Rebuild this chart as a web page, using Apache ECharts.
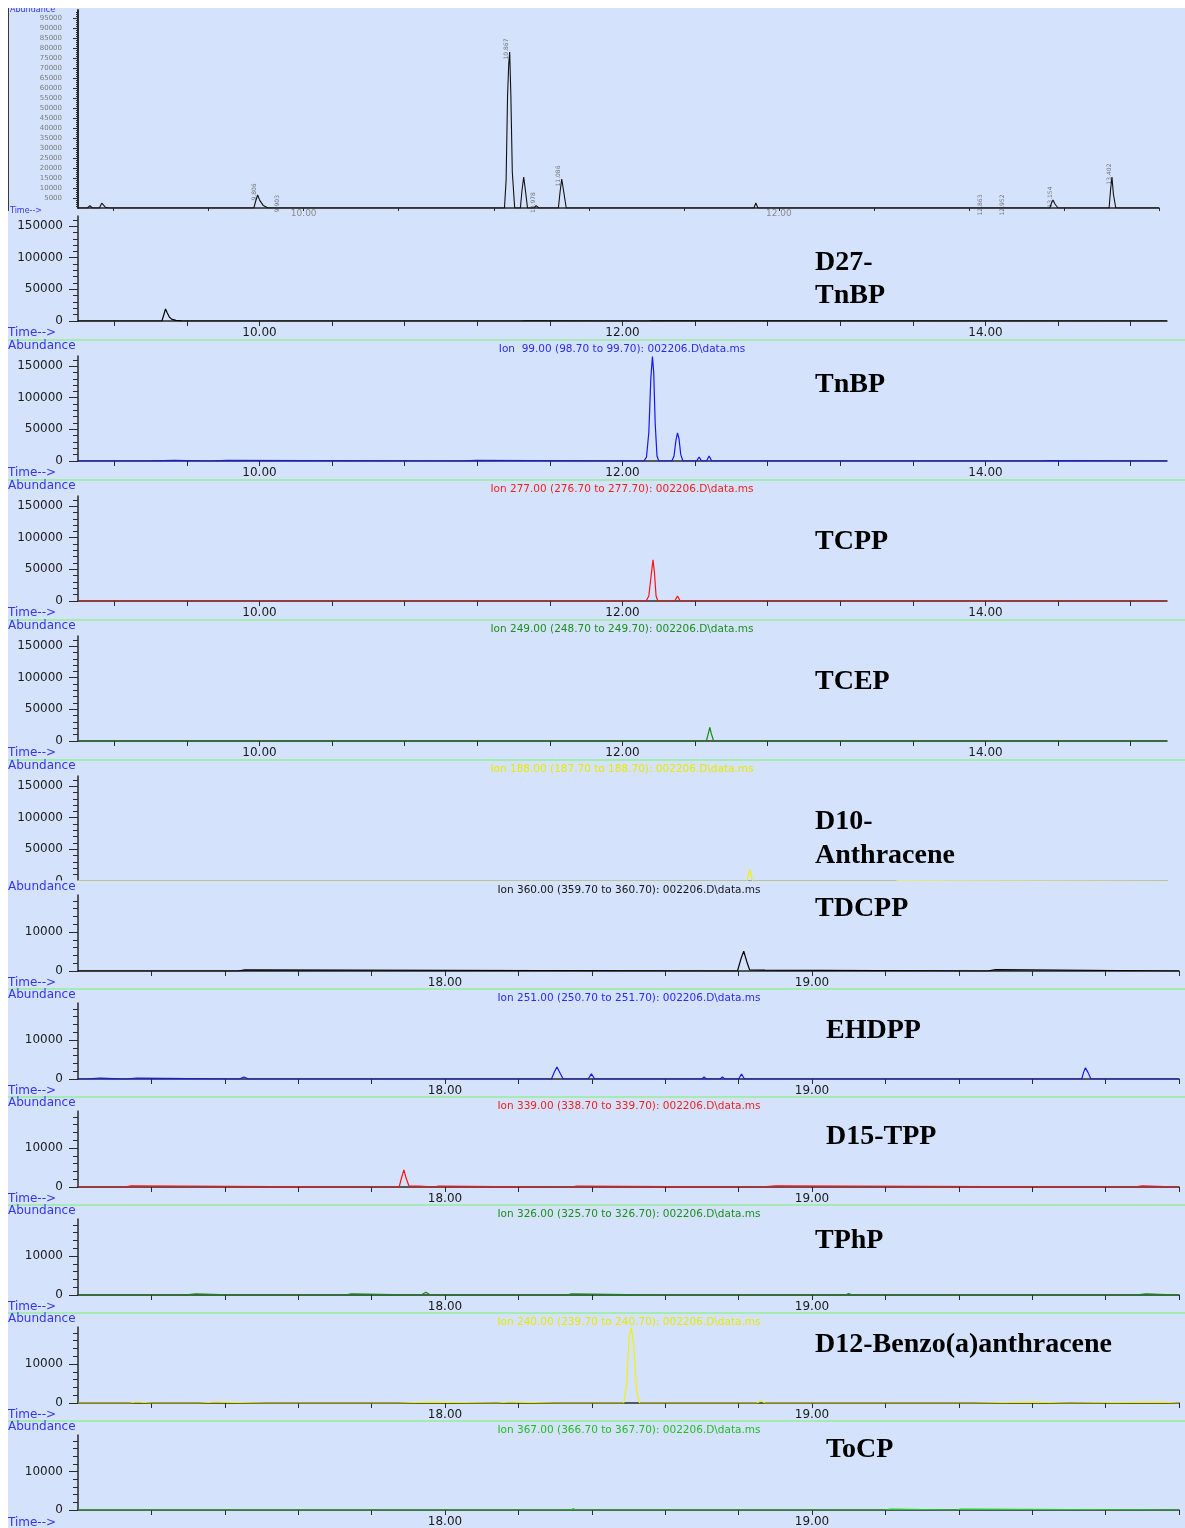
<!DOCTYPE html>
<html>
<head>
<meta charset="utf-8">
<script src="https://cdn.jsdelivr.net/npm/echarts@6/dist/echarts.min.js"></script>
<style>
  html, body { margin: 0; padding: 0; background: #ffffff; }
  #chart { width: 1185px; height: 1528px; }
</style>
</head>
<body>
<div id="chart"></div>
<script>
// ---- Total ion chromatogram (time in min, abundance) ----
const ticTrace = [
  [9.05,0],[9.09,0],[9.10,1200],[9.11,0],[9.14,0],[9.15,2400],[9.165,400],[9.18,0],
  [9.79,0],[9.798,3500],[9.806,6500],[9.815,3800],[9.83,1200],[9.85,0],
  [9.895,0],[9.903,700],[9.91,0],
  [10.22,0],[10.227,800],[10.235,0],
  [10.845,0],[10.852,14000],[10.858,56000],[10.863,72000],[10.867,78000],[10.872,56000],[10.878,18000],[10.888,0],
  [10.912,0],[10.919,9000],[10.926,15500],[10.933,9000],[10.942,0],
  [10.97,0],[10.978,1200],[10.99,0],
  [11.072,0],[11.079,8000],[11.086,14500],[11.094,8500],[11.105,0],
  [11.425,0],[11.432,800],[11.44,0],
  [11.895,0],[11.903,2500],[11.912,0],
  [13.14,0],[13.148,2600],[13.154,4000],[13.162,2000],[13.175,0],
  [13.39,0],[13.396,9000],[13.402,15500],[13.408,7000],[13.418,0],
  [13.6,0]
];
// integrated peaks on the TIC, tagged with retention time
const ticPeakMarks = [
  [9.806,6500],[9.903,700],[10.867,78000],[10.978,1200],[11.086,14500],
  [12.863,0],[12.952,0],[13.154,4000],[13.402,15500]
];

// ---- Extracted ion chromatograms, 9-15 min window ----
const d27TnbpTrace = [
  [9.0,0],[9.462,0],[9.472,9000],[9.482,19000],[9.492,12500],[9.504,6000],[9.518,2500],[9.54,900],[9.57,200],[9.6,0],
  [11.44,0],[11.445,400],[11.465,400],[11.47,0],
  [12.14,0],[12.145,400],[12.165,400],[12.17,0],
  [15.0,0]
];
const tnbpTrace = [
  [9.0,0],[9.36,0],[9.37,1200],[9.53,1200],[9.54,0],
  [9.73,0],[9.74,1200],[9.82,1200],[9.83,0],
  [11.12,0],[11.13,1200],[11.19,1200],[11.2,0],
  [12.118,0],[12.132,6000],[12.145,45000],[12.156,130000],[12.165,165000],[12.172,140000],[12.18,60000],[12.19,8000],[12.2,0],
  [12.272,0],[12.284,8000],[12.294,32000],[12.303,44500],[12.311,36000],[12.321,10000],[12.333,0],
  [12.408,0],[12.422,6000],[12.436,0],[12.463,0],[12.477,8000],[12.492,0],
  [14.3,0],[14.31,800],[14.35,800],[14.36,0],
  [15.0,0]
];
const tcppTrace = [
  [9.0,0],[12.13,0],[12.145,8000],[12.157,38000],[12.168,65000],[12.176,45000],[12.185,8000],[12.195,0],
  [12.288,0],[12.303,8000],[12.318,0],
  [12.9,0],[12.91,800],[12.93,0],
  [15.0,0]
];
const tcepTrace = [
  [9.0,0],[12.462,0],[12.473,12000],[12.481,21600],[12.489,12000],[12.502,0],[15.0,0]
];
const d10AnthraceneTrace = [
  [9.0,0],[12.686,0],[12.694,11000],[12.701,17500],[12.708,11000],[12.716,0],
  [13.5,0],[13.505,600],[13.52,600],[13.525,0],[15.0,0]
];

// ---- Extracted ion chromatograms, 17-20 min window ----
const tdcppTrace = [
  [17.0,0],[17.435,0],[17.438,300],[17.455,300],[17.458,0],
  [18.797,0],[18.806,3000],[18.814,5100],[18.822,2500],[18.83,300],[18.872,200],[18.875,0],
  [19.478,0],[19.482,350],[19.5,350],[19.503,0],[20.0,0]
];
const ehdppTrace = [
  [17.0,0],[17.02,0],[17.025,250],[17.06,250],[17.065,0],[17.13,0],[17.135,250],[17.16,250],[17.165,0],
  [17.44,0],[17.452,500],[17.465,0],
  [18.29,0],[18.298,1800],[18.305,3100],[18.312,1800],[18.322,0],
  [18.39,0],[18.399,1300],[18.408,0],
  [18.466,0],[18.471,300],[18.476,0],
  [18.7,0],[18.706,550],[18.712,0],[18.75,0],[18.756,550],[18.762,0],
  [18.8,0],[18.808,1300],[18.816,0],
  [19.735,0],[19.74,1700],[19.745,2900],[19.752,1700],[19.76,0],
  [20.0,0]
];
const d15TppTrace = [
  [17.0,0],[17.125,0],[17.128,300],[17.145,300],[17.148,0],
  [17.795,0],[17.798,250],[17.803,0],
  [17.875,0],[17.882,2500],[17.888,4400],[17.894,2300],[17.902,200],[17.93,200],[17.933,0],
  [17.97,0],[17.973,250],[17.982,250],[17.985,0],
  [18.3,0],[18.305,300],[18.31,0],[18.345,0],[18.348,250],[18.358,250],[18.36,0],
  [18.86,0],[18.863,300],[18.9,300],[18.903,0],
  [19.875,0],[19.878,300],[19.9,300],[19.903,0],[20.0,0]
];
const tphpTrace = [
  [17.0,0],[17.29,0],[17.293,300],[17.32,300],[17.323,0],
  [17.43,0],[17.433,250],[17.44,0],
  [17.725,0],[17.728,300],[17.745,300],[17.748,0],
  [17.935,0],[17.948,700],[17.96,0],
  [18.25,0],[18.253,250],[18.258,0],[18.33,0],[18.333,300],[18.345,300],[18.348,0],
  [18.6,0],[18.603,250],[18.608,0],[18.86,0],[18.863,250],[18.868,0],
  [19.09,0],[19.1,350],[19.11,0],
  [19.88,0],[19.883,300],[19.91,300],[19.913,0],[20.0,0]
];
const d12BenzTrace = [
  [17.0,0],[17.14,0],[17.143,250],[17.16,250],[17.163,0],[17.2,0],[17.203,250],[17.21,0],
  [17.24,0],[17.243,250],[17.25,0],[17.33,0],[17.333,250],[17.38,250],[17.383,0],
  [17.51,0],[17.513,250],[17.53,0],[17.59,0],[17.593,250],[17.6,0],[17.73,0],[17.733,250],[17.75,0],
  [17.87,0],[17.873,250],[17.96,250],[17.963,0],
  [18.14,0],[18.143,250],[18.18,250],[18.183,0],[18.3,0],[18.303,250],[18.31,0],[18.39,0],[18.393,250],[18.4,0],
  [18.487,0],[18.495,5000],[18.502,17000],[18.508,19300],[18.514,15000],[18.522,3000],[18.53,0],
  [18.85,0],[18.861,600],[18.872,0],
  [19.44,0],[19.443,200],[19.6,200],[19.603,0],[19.7,0],[19.703,200],[19.95,200],[19.953,0],[20.0,0]
];
const tocpTrace = [
  [17.0,0],[18.343,0],[18.349,350],[18.356,0],[18.758,0],[18.763,200],[18.768,0],
  [19.195,0],[19.2,250],[19.215,250],[19.22,0],[19.392,0],[19.395,250],[19.405,250],[19.408,0],[20.0,0]
];

// ---- Axis ranges and tick labels ----
const ticRange = [9.05, 13.6];
const upperRange = [9.0, 15.0];
const lowerRange = [17.0, 20.0];
const ticXLabels = [10, 12];
const upperXLabels = [10, 12, 14];
const lowerXLabels = [18, 19];
const ticYLabels = [5000,10000,15000,20000,25000,30000,35000,40000,45000,50000,
                    55000,60000,65000,70000,75000,80000,85000,90000,95000];
const upperYLabels = [0, 50000, 100000, 150000];
const lowerYLabels = [0, 10000];

// ---- Look ----
const BG = '#d4e3fb';
const SANS = '"DejaVu Sans", Verdana, sans-serif';
const SERIF = '"Liberation Serif", "Times New Roman", serif';
const UI_BLUE = '#3434f2';
const AXIS = '#2a2a2a';

function steps(from, to, step) {
  const out = [];
  for (let v = from; v <= to + step * 1e-6; v += step) out.push(Math.round(v * 1000) / 1000);
  return out;
}

// panel geometry: baseline y and plot height in px
const UP = { range: upperRange, xLabels: upperXLabels, yLabels: upperYLabels, yMax: 166000,
             xTicks: steps(9.2, 14.8, 0.4), yMinor: steps(10000, 160000, 10000),
             width: 1089, height: 105, headerX: 622 };
const LO = { range: lowerRange, xLabels: lowerXLabels, yLabels: lowerYLabels, yMax: 19500,
             xTicks: steps(17.2, 20.0, 0.2), yMinor: steps(2000, 18000, 2000),
             width: 1101, height: 76, headerX: 629 };

const panels = [
  { kind: UP, base: 321, data: d27TnbpTrace, color: '#000000', title: ['D27-', 'TnBP'], tx: 815, ty: [263, 296] },
  { kind: UP, base: 461, data: tnbpTrace, color: '#1515ff', title: ['TnBP'], tx: 815, ty: [385],
    ion: 'Ion  99.00 (98.70 to 99.70): 002206.D\\data.ms', ionColor: '#2a2af2' },
  { kind: UP, base: 601, data: tcppTrace, color: '#ff1010', title: ['TCPP'], tx: 815, ty: [542],
    ion: 'Ion 277.00 (276.70 to 277.70): 002206.D\\data.ms', ionColor: '#f02020' },
  { kind: UP, base: 741, data: tcepTrace, color: '#0b8f0b', title: ['TCEP'], tx: 815, ty: [682],
    ion: 'Ion 249.00 (248.70 to 249.70): 002206.D\\data.ms', ionColor: '#1a8f1a' },
  { kind: UP, base: 881, data: d10AnthraceneTrace, color: '#f2f200', title: ['D10-', 'Anthracene'], tx: 815, ty: [822, 856],
    ion: 'Ion 188.00 (187.70 to 188.70): 002206.D\\data.ms', ionColor: '#e8e800', hideBase: true },
  { kind: LO, base: 971, data: tdcppTrace, color: '#000000', title: ['TDCPP'], tx: 815, ty: [909],
    ion: 'Ion 360.00 (359.70 to 360.70): 002206.D\\data.ms', ionColor: '#151515' },
  { kind: LO, base: 1079, data: ehdppTrace, color: '#1515ff', title: ['EHDPP'], tx: 826, ty: [1031],
    ion: 'Ion 251.00 (250.70 to 251.70): 002206.D\\data.ms', ionColor: '#2a2af2' },
  { kind: LO, base: 1187, data: d15TppTrace, color: '#ff1010', title: ['D15-TPP'], tx: 826, ty: [1137],
    ion: 'Ion 339.00 (338.70 to 339.70): 002206.D\\data.ms', ionColor: '#f02020' },
  { kind: LO, base: 1295, data: tphpTrace, color: '#0b8f0b', title: ['TPhP'], tx: 815, ty: [1241],
    ion: 'Ion 326.00 (325.70 to 326.70): 002206.D\\data.ms', ionColor: '#1a8f1a' },
  { kind: LO, base: 1403, data: d12BenzTrace, color: '#f2f200', title: ['D12-Benzo(a)anthracene'], tx: 815, ty: [1345],
    ion: 'Ion 240.00 (239.70 to 240.70): 002206.D\\data.ms', ionColor: '#e8e800' },
  { kind: LO, base: 1511, data: tocpTrace, color: '#22cc22', title: ['ToCP'], tx: 826, ty: [1450],
    ion: 'Ion 367.00 (366.70 to 367.70): 002206.D\\data.ms', ionColor: '#22bb22' }
];

const separators = [340, 480, 620, 760, 989, 1097, 1205, 1313, 1421];

const grids = [], xAxes = [], yAxes = [], series = [], graphics = [];

function addYAxes(gi, max, labels, minor, opts) {
  yAxes.push({
    gridIndex: gi, type: 'value', min: 0, max: max, position: 'left',
    axisLine: { show: true, lineStyle: { color: AXIS, width: opts.lineWidth || 1.5 } },
    axisTick: { show: true, length: opts.major, customValues: labels, lineStyle: { color: AXIS } },
    axisLabel: { show: true, customValues: labels, formatter: v => String(Math.round(v)),
                 fontSize: opts.font, color: opts.labelColor, fontFamily: SANS, margin: opts.margin },
    splitLine: { show: false }
  });
  yAxes.push({
    gridIndex: gi, type: 'value', min: 0, max: max, position: 'left',
    axisLine: { show: false },
    axisTick: { show: true, length: opts.minor, customValues: minor, lineStyle: { color: AXIS } },
    axisLabel: { show: false }, splitLine: { show: false }
  });
}

function addXAxis(gi, range, ticks, labels, opts) {
  xAxes.push({
    gridIndex: gi, type: 'value', min: range[0], max: range[1],
    axisLine: { show: true, onZero: false, lineStyle: { color: AXIS, width: 1.5 } },
    axisTick: { show: true, length: opts.tick, customValues: ticks, lineStyle: { color: AXIS } },
    axisLabel: { show: opts.showLabels !== false, customValues: labels, formatter: v => Number(v).toFixed(2),
                 fontSize: opts.font, color: opts.labelColor, fontFamily: SANS, margin: opts.margin },
    splitLine: { show: false }
  });
}

// ---- TIC panel (grid 0) ----
grids.push({ left: 78, top: 10, width: 1081, height: 198 });
addXAxis(0, ticRange, steps(9.2, 13.6, 0.4), ticXLabels, { tick: 3, font: 9, labelColor: '#8a8a8a', margin: 1 });
addYAxes(0, 99000, ticYLabels, steps(1000, 98000, 1000),
         { major: 5, minor: 2, font: 7, labelColor: '#7a7a7a', margin: 16, lineWidth: 2 });
series.push({
  type: 'line', xAxisIndex: 0, yAxisIndex: 0, data: ticTrace, showSymbol: false, symbol: 'none',
  lineStyle: { color: '#111111', width: 1.1 }, animation: false, silent: true, z: 3
});
series.push({
  type: 'scatter', xAxisIndex: 0, yAxisIndex: 0, data: ticPeakMarks, symbolSize: 0, silent: true, animation: false,
  label: { show: true, position: 'top', rotate: 90, distance: 3, fontSize: 6, color: '#555555',
           fontFamily: SANS, formatter: p => p.value[0].toFixed(3) }
});

// ---- Extracted ion panels ----
panels.forEach((p, i) => {
  const gi = i + 1;
  const k = p.kind;
  grids.push({ left: 78, top: p.base - k.height, width: k.width, height: k.height });
  addXAxis(gi, k.range, k.xTicks, k.xLabels,
           { tick: 5, font: 12, labelColor: '#1a1a1a', margin: 6, showLabels: !p.hideBase });
  addYAxes(gi, k.yMax, k.yLabels, k.yMinor, { major: 9, minor: 5, font: 12, labelColor: '#1a1a1a', margin: 15 });
  series.push({
    type: 'line', xAxisIndex: gi, yAxisIndex: gi * 2, data: p.data, showSymbol: false, symbol: 'none',
    lineStyle: { color: p.color, width: 1.2 }, animation: false, silent: true, z: 3
  });

  // "Time-->" under each visible time axis
  if (!p.hideBase) {
    graphics.push({ type: 'text', z: 20, style: { text: 'Time-->', x: 8, y: p.base + 12, fill: UI_BLUE,
      font: '12px ' + SANS, verticalAlign: 'middle' } });
  }
  // "Abundance" and the ion header above each panel except the first
  if (p.ion) {
    const top = p.base - k.height;
    const abY = k === UP ? top - 10 : top - 8;
    graphics.push({ type: 'text', z: 20, style: { text: 'Abundance', x: 8, y: abY, fill: UI_BLUE,
      font: '12px ' + SANS, verticalAlign: 'middle' } });
    graphics.push({ type: 'text', z: 20, style: { text: p.ion, x: k.headerX, y: abY + 3, fill: p.ionColor,
      font: '10.5px ' + SANS, align: 'center', verticalAlign: 'middle' } });
  }
  // compound name
  p.title.forEach((line, j) => {
    graphics.push({ type: 'text', z: 20, style: { text: line, x: p.tx, y: p.ty[j], fill: '#000000',
      font: 'bold 28px ' + SERIF, verticalAlign: 'middle' } });
  });
  // the next panel overlaps the lower edge of this one
  if (p.hideBase) {
    graphics.push({ type: 'rect', z: 10, shape: { x: 8, y: p.base - 0.4, width: 1177, height: 12 },
      style: { fill: BG } });
  }
});

// green separators between stacked traces
separators.forEach(y => {
  graphics.push({ type: 'line', z: 15, shape: { x1: 8, y1: y, x2: 1185, y2: y },
    style: { stroke: '#96ec96', lineWidth: 1.5 } });
});

// TIC panel captions
graphics.push({ type: 'text', z: 5, style: { text: 'Abundance', x: 10, y: 10, fill: UI_BLUE,
  font: '8px ' + SANS, verticalAlign: 'middle' } });
graphics.push({ type: 'text', z: 5, style: { text: 'Time-->', x: 10, y: 211, fill: UI_BLUE,
  font: '8px ' + SANS, verticalAlign: 'middle' } });
graphics.push({ type: 'line', z: 12, shape: { x1: 8.5, y1: 8, x2: 8.5, y2: 211 },
  style: { stroke: '#3a3a3a', lineWidth: 1 } });

// white page margin at top and left
graphics.push({ type: 'rect', z: 30, shape: { x: 0, y: 0, width: 1185, height: 8 }, style: { fill: '#ffffff' } });
graphics.push({ type: 'rect', z: 30, shape: { x: 0, y: 0, width: 8, height: 1528 }, style: { fill: '#ffffff' } });

const chart = echarts.init(document.getElementById('chart'), null, { renderer: 'canvas', width: 1185, height: 1528 });
chart.setOption({
  backgroundColor: BG,
  animation: false,
  grid: grids,
  xAxis: xAxes,
  yAxis: yAxes,
  series: series,
  graphic: { elements: graphics }
});
</script>
</body>
</html>
